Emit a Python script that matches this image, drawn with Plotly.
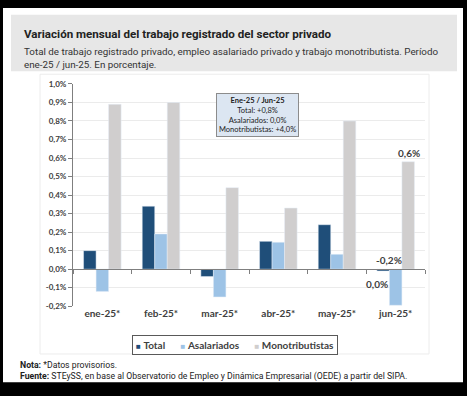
import plotly.graph_objects as go

categories = ["ene-25*", "feb-25*", "mar-25*", "abr-25*", "may-25*", "jun-25*"]
series_names = ["Total", "Asalariados", "Monotributistas"]
total = [0.10, 0.34, -0.04, 0.15, 0.24, -0.01]
asalariados = [-0.12, 0.19, -0.15, 0.145, 0.08, -0.195]
monotributistas = [0.89, 0.90, 0.44, 0.33, 0.80, 0.58]
y_ticks = [-0.2, -0.1, 0.0, 0.1, 0.2, 0.3, 0.4, 0.5, 0.6, 0.7, 0.8, 0.9, 1.0]

title = "Variación mensual del trabajo registrado del sector privado"
subtitle = ("Total de trabajo registrado privado, empleo asalariado privado y trabajo monotributista. Período"
            "<br>ene-25 / jun-25. En porcentaje.")
box_text = ("<b>Ene-25 / Jun-25</b><br>Total: +0,8%<br>Asalariados: 0,0%<br>Monotributistas: +4,0%")
note = "<b>Nota:</b> *Datos provisorios."
source = "<b>Fuente:</b> STEySS, en base al Observatorio de Empleo y Dinámica Empresarial (OEDE) a partir del SIPA."

W, H = 467, 396
colors = ["#1f4e79", "#9dc3e6", "#d0cece"]
CHART_FONT = "Lato"


def fmt(v):
    r = round(v, 1)
    if r == 0:
        r = 0.0
    return f"{r:.1f}%".replace(".", ",")


fig = go.Figure()
for name, vals, col in zip(series_names, [total, asalariados, monotributistas], colors):
    fig.add_trace(go.Bar(name=name, x=categories, y=vals, marker_color=col, showlegend=False))
# invisible trace to draw boundary ticks on the zero line
fig.add_trace(go.Scatter(x=categories, y=[0] * len(categories), xaxis="x2", yaxis="y",
                         mode="markers", marker=dict(opacity=0), showlegend=False, hoverinfo="skip"))

px = lambda v: v / W
py = lambda v: 1 - v / H

shapes = [
    dict(type="rect", xref="paper", yref="paper", x0=px(3), x1=px(463), y0=py(387), y1=py(3),
         fillcolor="white", line=dict(width=0), layer="below"),
    dict(type="rect", xref="paper", yref="paper", x0=px(11), x1=px(457), y0=py(68), y1=py(10),
         fillcolor="#e7e7e7", line=dict(width=0), layer="below"),
    dict(type="rect", xref="paper", yref="paper", x0=px(40), x1=px(429), y0=py(358), y1=py(71),
         fillcolor="white", line=dict(width=1, color="#ececec"), layer="below"),
]

legend_text = "&nbsp;&nbsp;&nbsp;&nbsp;&nbsp;&nbsp;".join(
    f"<span style='color:{c};font-size:8px'>■</span> <b>{n}</b>" for n, c in zip(series_names, colors))

last = len(categories) - 1
annotations = [
    dict(text=f"<b>{title}</b>", x=px(22), y=py(30), xref="paper", yref="paper", xanchor="left",
         yanchor="middle", showarrow=False, font=dict(family="Roboto", size=11.6, color="#222222")),
    dict(text=subtitle, x=px(22), y=py(54), xref="paper", yref="paper", xanchor="left",
         yanchor="middle", align="left", showarrow=False,
         font=dict(family="Roboto", size=9.8, color="#333333")),
    dict(text=box_text, x=px(257), y=py(113), xref="paper", yref="paper", xanchor="center",
         yanchor="middle", align="center", showarrow=False, bgcolor="#dce6f2",
         bordercolor="#8c8c8c", borderwidth=1, borderpad=2,
         font=dict(family=CHART_FONT, size=7.5, color="#222222")),
    dict(text=legend_text, x=px(235), y=py(349), xref="paper", yref="paper", xanchor="center",
         yanchor="middle", showarrow=False, bgcolor="white", bordercolor="#595959",
         borderwidth=1, borderpad=3,
         font=dict(family=CHART_FONT, size=10, color="#404040")),
    dict(text=note, x=px(18), y=py(369), xref="paper", yref="paper", xanchor="left",
         yanchor="middle", showarrow=False, font=dict(family="Roboto", size=8.7, color="#222222")),
    dict(text=source, x=px(18), y=py(381), xref="paper", yref="paper", xanchor="left",
         yanchor="middle", showarrow=False, font=dict(family="Roboto", size=8.7, color="#222222")),
    # data labels for the last month
    dict(text=f"<b>{fmt(monotributistas[last])}</b>", x=categories[last], y=monotributistas[last],
         xref="x", yref="y", xshift=13, yshift=9, showarrow=False,
         font=dict(family=CHART_FONT, size=10, color="#404040")),
    dict(text=f"<b>{fmt(asalariados[last])}</b>", x=categories[last], y=0,
         xref="x", yref="y", xshift=-7, yshift=9, showarrow=False,
         font=dict(family=CHART_FONT, size=10, color="#404040")),
    dict(text=f"<b>{fmt(total[last])}</b>", x=categories[last], y=total[last],
         xref="x", yref="y", xshift=-19, yshift=-13, showarrow=False,
         font=dict(family=CHART_FONT, size=10, color="#404040")),
]

fig.update_layout(
    width=W, height=H,
    margin=dict(l=0, r=0, t=0, b=0),
    paper_bgcolor="black",
    plot_bgcolor="rgba(0,0,0,0)",
    separators=",.",
    barmode="group",
    bargap=0.36,
    bargroupgap=0,
    shapes=shapes,
    annotations=annotations,
    showlegend=False,
    xaxis=dict(domain=[px(73), px(425)], anchor="y", showline=False, ticks="",
               tickfont=dict(family=CHART_FONT, size=10, color="#404040", weight="bold"),
               showgrid=False, categoryorder="array", categoryarray=categories),
    xaxis2=dict(domain=[px(73), px(425)], anchor="free", position=py(271), overlaying="x",
                matches="x", showline=True, linecolor="#7f7f7f", linewidth=1,
                ticks="outside", ticklen=4, tickcolor="#7f7f7f", tickson="boundaries",
                showticklabels=False, showgrid=False, categoryorder="array",
                categoryarray=categories),
    yaxis=dict(domain=[py(309), py(81)], range=[-0.2, 1.0], tickvals=y_ticks,
               ticktext=[fmt(v) for v in y_ticks], showline=True, linecolor="#7f7f7f",
               ticks="outside", ticklen=4, tickcolor="#7f7f7f", showgrid=True,
               gridcolor="#ebebeb", zeroline=False,
               tickfont=dict(family=CHART_FONT, size=8, color="#404040", weight="bold")),
)

fig.write_html("out.html", config={"displayModeBar": False},
               post_script="document.body.style.margin='0';document.body.style.padding='0';")
